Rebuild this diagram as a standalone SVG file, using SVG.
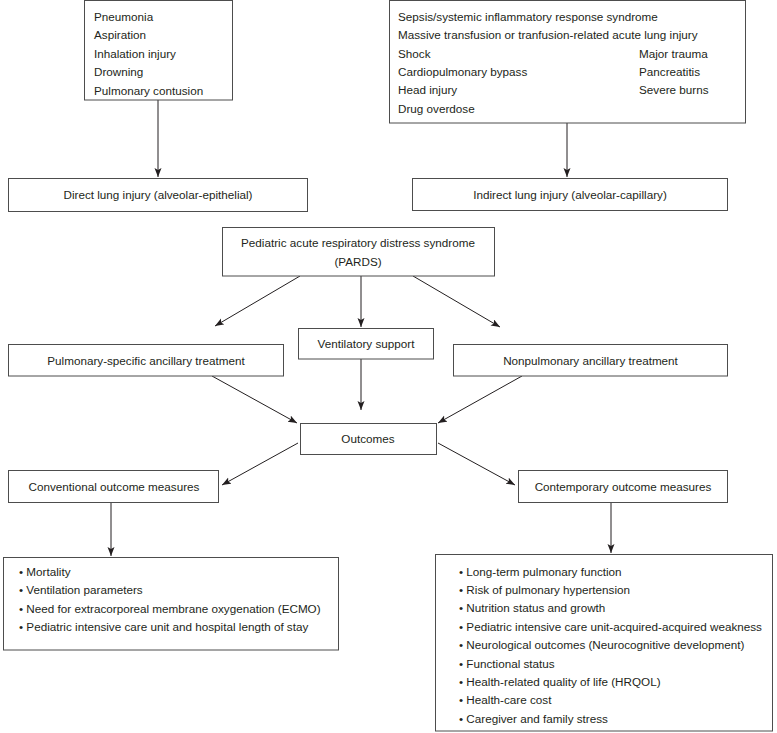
<svg xmlns="http://www.w3.org/2000/svg" width="777" height="733" viewBox="0 0 777 733">
<style>
  text { font-family: "Liberation Sans", Arial, Helvetica, sans-serif; font-size: 11.7px; fill: #231f20; }
  .c { text-anchor: middle; }
  .box { fill: #ffffff; stroke: #4d4d4d; stroke-width: 1; }
  .edge { stroke: #231f20; stroke-width: 1; fill: none; marker-end: url(#arr); }
</style>
<defs>
  <marker id="arr" markerUnits="userSpaceOnUse" markerWidth="10" markerHeight="8" refX="9" refY="3.5" orient="auto">
    <path d="M0,0 L9,3.5 L0,7 L2,3.5 z" fill="#231f20"/>
  </marker>
</defs>
<rect width="777" height="733" fill="#ffffff"/>

<g id="connectors">
  <line class="edge" x1="158" y1="100" x2="158" y2="177"/>
  <line class="edge" x1="567" y1="123" x2="567" y2="177"/>
  <line class="edge" x1="300" y1="276" x2="215" y2="326"/>
  <line class="edge" x1="361" y1="276" x2="361" y2="327"/>
  <line class="edge" x1="413" y1="276" x2="500" y2="327"/>
  <line class="edge" x1="212" y1="376" x2="297" y2="423"/>
  <line class="edge" x1="361" y1="359" x2="361" y2="410"/>
  <line class="edge" x1="522" y1="376" x2="438" y2="423"/>
  <line class="edge" x1="298" y1="443" x2="222" y2="485"/>
  <line class="edge" x1="438" y1="443" x2="515" y2="485"/>
  <line class="edge" x1="111" y1="502" x2="111" y2="556"/>
  <line class="edge" x1="611" y1="502" x2="611" y2="553"/>
</g>

<g id="direct-causes">
  <rect class="box" x="84.5" y="0.5" width="148" height="99.5"/>
  <text x="94" y="20.5">Pneumonia</text>
  <text x="94" y="39">Aspiration</text>
  <text x="94" y="57.5">Inhalation injury</text>
  <text x="94" y="76">Drowning</text>
  <text x="94" y="94.5">Pulmonary contusion</text>
</g>

<g id="indirect-causes">
  <rect class="box" x="389.5" y="0.5" width="356" height="122.5"/>
  <text x="398" y="20.7">Sepsis/systemic inflammatory response syndrome</text>
  <text x="398" y="39.1">Massive transfusion or tranfusion-related acute lung injury</text>
  <text x="398" y="57.5">Shock</text>
  <text x="398" y="75.9">Cardiopulmonary bypass</text>
  <text x="398" y="94.3">Head injury</text>
  <text x="398" y="112.7">Drug overdose</text>
  <text x="639" y="57.5">Major trauma</text>
  <text x="639" y="75.9">Pancreatitis</text>
  <text x="639" y="94.3">Severe burns</text>
</g>

<g id="direct-injury">
  <rect class="box" x="8.5" y="178.5" width="299" height="33"/>
  <text class="c" x="158" y="199">Direct lung injury (alveolar-epithelial)</text>
</g>

<g id="indirect-injury">
  <rect class="box" x="412.5" y="178.5" width="315" height="32"/>
  <text class="c" x="570" y="198.5">Indirect lung injury (alveolar-capillary)</text>
</g>

<g id="pards">
  <rect class="box" x="222.5" y="227.5" width="272" height="48.5"/>
  <text class="c" x="358" y="247">Pediatric acute respiratory distress syndrome</text>
  <text class="c" x="358" y="266">(PARDS)</text>
</g>

<g id="ventilatory">
  <rect class="box" x="298.5" y="328.5" width="135" height="30.5"/>
  <text class="c" x="366" y="347.5">Ventilatory support</text>
</g>

<g id="pulmonary-specific">
  <rect class="box" x="8.5" y="344.5" width="275" height="31.5"/>
  <text class="c" x="146" y="364.5">Pulmonary-specific ancillary treatment</text>
</g>

<g id="nonpulmonary">
  <rect class="box" x="453.5" y="344.5" width="274" height="31.5"/>
  <text class="c" x="590.5" y="364.5">Nonpulmonary ancillary treatment</text>
</g>

<g id="outcomes">
  <rect class="box" x="300.5" y="423.5" width="136" height="31"/>
  <text class="c" x="368" y="443">Outcomes</text>
</g>

<g id="conventional">
  <rect class="box" x="8.5" y="470.5" width="210" height="32"/>
  <text class="c" x="114" y="490.5">Conventional outcome measures</text>
</g>

<g id="contemporary">
  <rect class="box" x="518.5" y="470.5" width="209" height="32"/>
  <text class="c" x="623" y="490.5">Contemporary outcome measures</text>
</g>

<g id="conventional-list">
  <rect class="box" x="3.5" y="557.5" width="335" height="92.5"/>
  <text x="19" y="575.5">• Mortality</text>
  <text x="19" y="594">• Ventilation parameters</text>
  <text x="19" y="612.5">• Need for extracorporeal membrane oxygenation (ECMO)</text>
  <text x="19" y="631">• Pediatric intensive care unit and hospital length of stay</text>
</g>

<g id="contemporary-list">
  <rect class="box" x="435.5" y="554.5" width="337" height="176.5"/>
  <text x="459" y="575.5">• Long-term pulmonary function</text>
  <text x="459" y="593.9">• Risk of pulmonary hypertension</text>
  <text x="459" y="612.3">• Nutrition status and growth</text>
  <text x="459" y="630.7">• Pediatric intensive care unit-acquired-acquired weakness</text>
  <text x="459" y="649.1">• Neurological outcomes (Neurocognitive development)</text>
  <text x="459" y="667.5">• Functional status</text>
  <text x="459" y="685.9">• Health-related quality of life (HRQOL)</text>
  <text x="459" y="704.3">• Health-care cost</text>
  <text x="459" y="722.7">• Caregiver and family stress</text>
</g>
</svg>
